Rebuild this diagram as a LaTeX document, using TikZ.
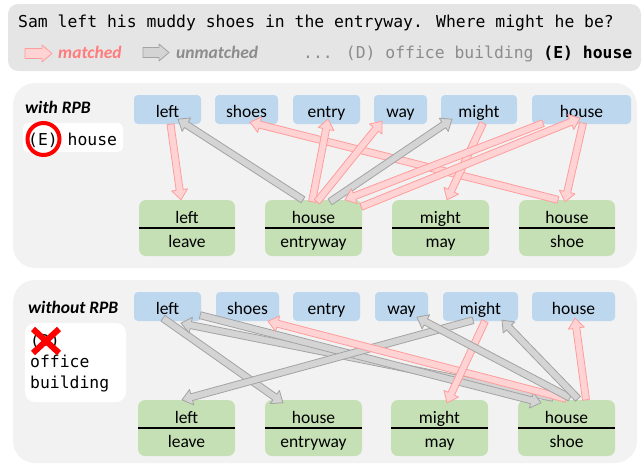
\documentclass[tikz,border=0pt]{standalone}
\usepackage{fontspec}
\setmainfont{Carlito}
\newfontfamily\monof{DejaVu Sans Mono}
\usetikzlibrary{calc}
\definecolor{hdrF}{HTML}{E6E5E6}
\definecolor{panF}{HTML}{F2F2F2}
\definecolor{blueF}{HTML}{BDD7EE}
\definecolor{greenF}{HTML}{C5E0B4}
\definecolor{pinkF}{HTML}{FFD3D3}
\definecolor{pinkD}{HTML}{FF9C9C}
\definecolor{pinkT}{HTML}{FF7C7C}
\definecolor{grayF}{HTML}{D4D4D4}
\definecolor{grayD}{HTML}{A3A3A3}
\definecolor{grayT}{HTML}{8C8C8C}

\newcommand\bashaft{3.5pt}
\newcommand\bahead{8pt}
\newcommand\balen{10pt}
\newcommand\blkarrow[3][]{%
  \coordinate (ba-a) at #2;
  \coordinate (ba-e) at #3;
  \coordinate (ba-b) at ($(ba-e)!\balen!(ba-a)$);
  \filldraw[#1] ($(ba-a)!\bashaft!90:(ba-e)$) -- ($(ba-b)!\bashaft!-90:(ba-a)$) -- ($(ba-b)!\bahead!-90:(ba-a)$) -- (ba-e) -- ($(ba-b)!\bahead!90:(ba-a)$) -- ($(ba-b)!\bashaft!90:(ba-a)$) -- ($(ba-a)!\bashaft!-90:(ba-e)$) -- cycle;}

\newcommand\gnode[6]{%
  \node[gbox, minimum width=#6pt] (#1) at (#2,#3) {};
  \draw[divline] (#1.west) -- (#1.east);
  \node[gtxt] (#1t) at ($(#1.center)+(0,-5)$) {#4};
  \node[gtxt] (#1b) at ($(#1.center)+(0,19)$) {#5};}

\begin{document}
\begin{tikzpicture}[x=1pt,y=-1pt,
  tok/.style={rectangle, rounded corners=4pt, fill=blueF, minimum height=29pt, inner sep=0pt,
    font=\fontsize{17.5}{20}\selectfont, text height=15pt, text depth=0pt},
  gbox/.style={rectangle, rounded corners=7pt, fill=greenF, minimum height=56pt, inner sep=0pt},
  gtxt/.style={anchor=base, inner sep=0pt, font=\fontsize{17.5}{20}\selectfont},
  divline/.style={line width=1.4pt, black},
  pinkA/.style={fill=pinkF, draw=pinkD, line width=0.8pt, line join=round},
  grayA/.style={fill=grayF, draw=grayD, line width=0.8pt, line join=round},
  mtext/.style={anchor=base west, inner sep=0pt, font=\monof\fontsize{16.4}{20}\selectfont},
  lbl/.style={anchor=base west, inner sep=0pt, font=\bfseries\itshape\fontsize{17.5}{20}\selectfont}]
\useasboundingbox (0,0) rectangle (644,466);

% header
\node[fill=hdrF, rounded corners=10pt, minimum width=633pt, minimum height=67pt, inner sep=0pt] (hdr) at (324.5,37.5) {};
\node[mtext] (q) at (18,27) {Sam left his muddy shoes in the entryway. Where might he be?};
\begingroup
\renewcommand\bashaft{5pt}\renewcommand\bahead{8.5pt}\renewcommand\balen{10pt}
\coordinate (lgpa) at (25,53.5); \coordinate (lgpb) at (52,53.5);
\blkarrow[pinkA]{(lgpa)}{(lgpb)}
\coordinate (lgga) at (143,52.5); \coordinate (lggb) at (169,52.5);
\blkarrow[grayA]{(lgga)}{(lggb)}
\endgroup
\node[lbl, text=pinkT] (lm) at (58,58) {matched};
\node[lbl, text=grayT] (lu) at (176,58) {unmatched};
\node[mtext, text=grayT] (opts) at (303,58) {... (D) office building \textcolor{black}{\bfseries (E) house}};

% panels
\node[fill=panF, rounded corners=22pt, minimum width=624pt, minimum height=185pt, inner sep=0pt] (p1) at (325,175.5) {};
\node[fill=panF, rounded corners=22pt, minimum width=624pt, minimum height=183pt, inner sep=0pt] (p2) at (325,371.5) {};

% panel 1 side
\node[lbl] (w1) at (25,113) {with RPB};
\node[fill=white, rounded corners=5pt, minimum width=100pt, minimum height=29pt, inner sep=0pt] (ans1box) at (73,137.5) {};
\node[mtext] (ans1) at (28,145) {(E) house};
\node[draw=red, line width=4pt, circle, minimum size=32pt, inner sep=0pt] (circ) at (43.5,139) {};

% panel 2 side
\node[lbl] (w2) at (28,313) {without RPB};
\node[fill=white, rounded corners=10pt, minimum width=101pt, minimum height=79pt, inner sep=0pt] (ans2box) at (75.5,362.5) {};
\node[mtext] (o1) at (30,346) {(D)};
\node[mtext] (o2) at (30,367) {office};
\node[mtext] (o3) at (30,388) {building};
\coordinate (xc) at (46,341);
\draw[red, line width=6pt] ($(xc)+(-13,-12)$) -- ($(xc)+(13,12)$);
\draw[red, line width=6pt] ($(xc)+(-13,12)$) -- ($(xc)+(13,-12)$);

% panel 1 nodes
\node[tok, minimum width=67pt] (a1) at (167.5,109.5) {left};
\node[tok, minimum width=63pt] (a2) at (246.5,109.5) {shoes};
\node[tok, minimum width=67pt] (a3) at (326.5,109.5) {entry};
\node[tok, minimum width=53pt] (a4) at (400.5,109.5) {way};
\node[tok, minimum width=76pt] (a5) at (479,109.5) {might};
\node[tok, minimum width=99pt] (a6) at (581.5,109.5) {house};
\gnode{b1}{187}{228}{left}{leave}{96}
\gnode{b2}{313.5}{228}{house}{entryway}{97}
\gnode{b3}{440.5}{228}{might}{may}{97}
\gnode{b4}{567}{228}{house}{shoe}{96}

% panel 2 nodes
\node[tok, minimum width=67pt] (c1) at (167.5,306.5) {left};
\node[tok, minimum width=63pt] (c2) at (247.5,306.5) {shoes};
\node[tok, minimum width=67pt] (c3) at (326.5,306.5) {entry};
\node[tok, minimum width=53pt] (c4) at (401.5,306.5) {way};
\node[tok, minimum width=75pt] (c5) at (480.5,306.5) {might};
\node[tok, minimum width=83pt] (c6) at (573.5,306.5) {house};
\gnode{d1}{186.5}{428}{left}{leave}{97}
\gnode{d2}{313.5}{428}{house}{entryway}{97}
\gnode{d3}{439.5}{428}{might}{may}{97}
\gnode{d4}{566.5}{428}{house}{shoe}{97}

% panel 1 arrows
\blkarrow[pinkA]{($(b4.north)+(-9,0)$)}{($(a2.south)+(3.5,-2)$)}
\blkarrow[pinkA]{($(a1.south)+(3,0)$)}{($(b1.north)+(-6,0)$)}
\blkarrow[grayA]{($(b2.north)+(-10.5,0)$)}{($(a1.south)+(10.5,-5)$)}
\blkarrow[pinkA]{($(b2.north)+(-1.5,2)$)}{($(a3.south)+(1.5,-5)$)}
\blkarrow[pinkA]{($(b2.north)+(3.5,2)$)}{($(a4.south)+(-18.5,-3)$)}
\blkarrow[grayA]{($(b2.north)+(16.5,2)$)}{($(a5.south)+(-27,-5)$)}
\blkarrow[pinkA]{($(a5.south)+(4,-1)$)}{($(b3.north)+(6.5,0)$)}
\blkarrow[pinkA]{($(a6.south)+(-38.5,-1)$)}{($(b2.north)+(31.5,0)$)}
\blkarrow[pinkA]{($(b2.north east)+(-1,7)$)}{($(a6.south)+(-1.5,-6)$)}
\blkarrow[pinkA]{($(a6.south)+(1.5,-1)$)}{($(b4.north)+(-2,2)$)}

% panel 2 arrows
\blkarrow[grayA]{($(c1.south)+(-4.5,-3)$)}{($(d2.north)+(-30.5,3)$)}
\blkarrow[grayA]{($(d4.north)+(-13.5,-2)$)}{($(c1.south)+(13.5,2)$)}
\blkarrow[grayA]{($(c1.south east)+(-1,-6)$)}{($(d4.north)+(-25.5,3)$)}
\blkarrow[grayA]{($(c5.south)+(-7.5,-1)$)}{($(d1.north)+(-4.5,0)$)}
\blkarrow[pinkA]{($(d4.north)+(-0.5,-1)$)}{($(c2.south)+(20.5,0)$)}
\blkarrow[pinkA]{($(c5.south)+(4.5,0)$)}{($(d3.north)+(7.5,3)$)}
\blkarrow[grayA]{($(d4.north)+(3.5,-2)$)}{($(c4.south)+(15.5,-4)$)}
\blkarrow[grayA]{($(d4.north)+(11.5,-1)$)}{($(c5.south)+(21.5,-1)$)}
\blkarrow[pinkA]{($(d4.north)+(19.5,0)$)}{($(c6.south)+(1.5,-3)$)}
\end{tikzpicture}
\end{document}
